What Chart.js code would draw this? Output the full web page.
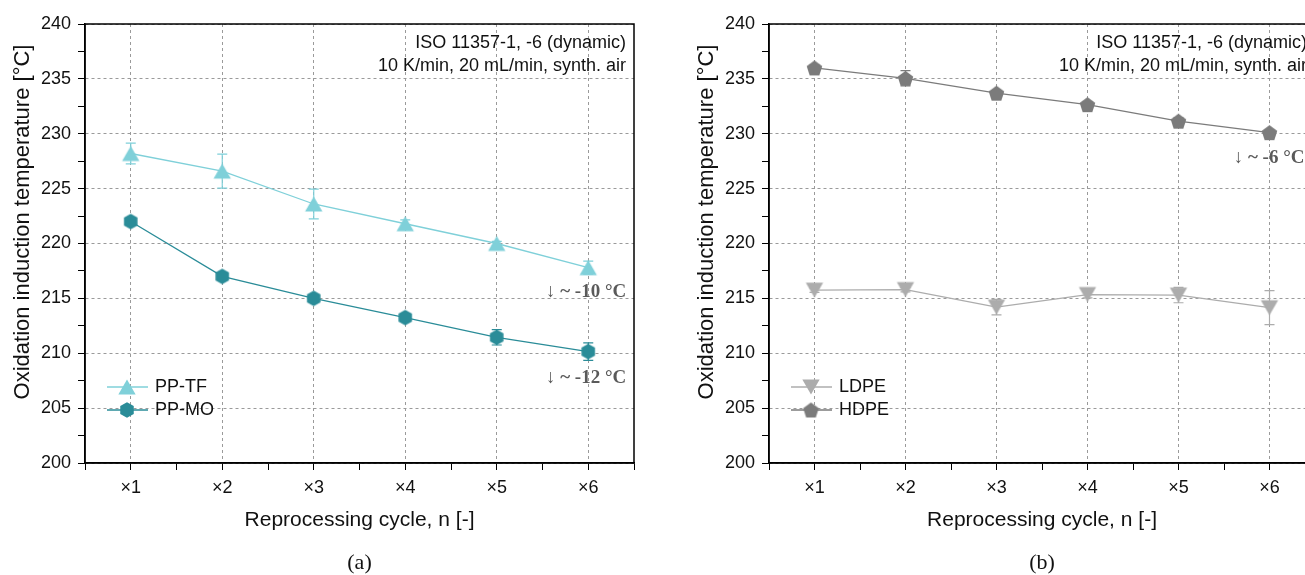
<!DOCTYPE html>
<html>
<head>
<meta charset="utf-8">
<script src="https://cdn.jsdelivr.net/npm/chart.js@4.4.0/dist/chart.umd.min.js"></script>
<style>
  html, body { margin: 0; padding: 0; background: #fff; overflow: hidden; }
  body { width: 1305px; height: 575px; position: relative; }
  #chartA { position: absolute; left: 0; top: 0; }
  #chartB { position: absolute; left: 684px; top: 0; }
</style>
</head>
<body>
<canvas id="chartA" width="650" height="575"></canvas>
<canvas id="chartB" width="647" height="575"></canvas>
<script>
// reprocessing cycles and their tick labels
const cycles = [1, 2, 3, 4, 5, 6];
const cycleLabels = ['×1', '×2', '×3', '×4', '×5', '×6'];

// OIT values [°C] and standard deviations
const ppTF = [228.2, 226.6, 223.6, 221.8, 220.0, 217.8];
const ppTFErr = [0.95, 1.55, 1.35, 0.35, 0.2, 0.6];
const ppMO = [222.0, 217.0, 215.0, 213.25, 211.45, 210.15];
const ppMOErr = [0.3, 0.3, 0.25, 0.3, 0.7, 0.8];
const ldpe = [215.75, 215.8, 214.2, 215.35, 215.3, 214.15];
const ldpeErr = [0.2, 0.2, 0.7, 0.3, 0.7, 1.55];
const hdpe = [236.0, 235.05, 233.7, 232.65, 231.15, 230.1];
const hdpeErr = [0.25, 0.7, 0.2, 0.25, 0.3, 0.2];

const SANS = '"Liberation Sans", Arial, sans-serif';
const SERIF = '"Liberation Serif", "Times New Roman", serif';

// filled regular polygon as point style, bounding box centred
function marker(sides, r, color, rot) {
  const pts = [];
  for (let i = 0; i < sides; i++) {
    const a = rot + i * 2 * Math.PI / sides;
    pts.push([r * Math.sin(a), -r * Math.cos(a)]);
  }
  const xs = pts.map(p => p[0]), ys = pts.map(p => p[1]);
  const cx = (Math.min(...xs) + Math.max(...xs)) / 2;
  const cy = (Math.min(...ys) + Math.max(...ys)) / 2;
  const size = Math.ceil(r * 2 + 2);
  const c = document.createElement('canvas');
  c.width = c.height = size;
  const g = c.getContext('2d');
  g.fillStyle = color;
  g.beginPath();
  pts.forEach((p, i) => {
    const px = size / 2 + p[0] - cx, py = size / 2 + p[1] - cy;
    i ? g.lineTo(px, py) : g.moveTo(px, py);
  });
  g.closePath();
  g.fill();
  return c;
}

const decor = {
  id: 'decor',
  beforeDatasetsDraw(chart) {
    // error bars with caps
    const ctx = chart.ctx, y = chart.scales.y, x = chart.scales.x;
    chart.data.datasets.forEach(ds => {
      ctx.save();
      ctx.strokeStyle = ds.borderColor;
      ctx.lineWidth = 1.2;
      ds.data.forEach((p, i) => {
        const e = ds.errors[i];
        const px = x.getPixelForValue(p.x);
        const top = y.getPixelForValue(p.y + e), bot = y.getPixelForValue(p.y - e);
        ctx.beginPath();
        ctx.moveTo(px, top); ctx.lineTo(px, bot);
        ctx.moveTo(px - 5, top); ctx.lineTo(px + 5, top);
        ctx.moveTo(px - 5, bot); ctx.lineTo(px + 5, bot);
        ctx.stroke();
      });
      ctx.restore();
    });
  },
  afterDraw(chart, args, opts) {
    const ctx = chart.ctx, a = chart.chartArea;
    const x = chart.scales.x, y = chart.scales.y;
    ctx.save();
    // frame
    ctx.strokeStyle = '#000';
    ctx.lineWidth = 1.5;
    ctx.strokeRect(a.left, a.top, a.right - a.left, a.bottom - a.top);

    ctx.fillStyle = '#111';
    // axis titles
    ctx.font = '21px ' + SANS;
    ctx.textAlign = 'center';
    ctx.textBaseline = 'middle';
    ctx.fillText('Reprocessing cycle, n [-]', (a.left + a.right) / 2, 520);
    ctx.save();
    ctx.translate(23, 222);
    ctx.rotate(-Math.PI / 2);
    ctx.font = '22px ' + SANS;
    ctx.fillText('Oxidation induction temperature [°C]', 0, 0);
    ctx.restore();

    // panel caption
    ctx.font = '22px ' + SERIF;
    ctx.fillText(opts.caption, (a.left + a.right) / 2, 563);

    // test conditions
    ctx.font = '18px ' + SANS;
    ctx.textAlign = 'right';
    ctx.fillText('ISO 11357-1, -6 (dynamic)', a.right - 8, 43);
    ctx.fillText('10 K/min, 20 mL/min, synth. air', a.right - 8, 66);

    // drop over six cycles
    ctx.font = 'bold 19px ' + SERIF;
    ctx.fillStyle = '#5a5a5a';
    opts.drops.forEach(d => {
      const vals = chart.data.datasets[d.ds].data;
      const last = vals[vals.length - 1];
      ctx.fillText(d.text, x.getPixelForValue(last.x) + d.dx, y.getPixelForValue(last.y) + d.dy);
    });

    // legend
    ctx.font = '18px ' + SANS;
    ctx.textAlign = 'left';
    ctx.fillStyle = '#111';
    chart.data.datasets.forEach((ds, i) => {
      const ly = 387 + i * 23;
      ctx.strokeStyle = ds.borderColor;
      ctx.lineWidth = 1.3;
      ctx.beginPath();
      ctx.moveTo(107, ly); ctx.lineTo(148, ly);
      ctx.stroke();
      const m = ds.pointStyle;
      ctx.drawImage(m, 127 - m.width / 2, ly - m.height / 2);
      ctx.fillText(ds.label, 155, ly);
    });
    ctx.restore();
  }
};

function series(label, values, errors, color, pt) {
  return {
    label,
    data: cycles.map((c, i) => ({ x: c, y: values[i] })),
    errors,
    borderColor: color,
    backgroundColor: color,
    borderWidth: 1.3,
    pointStyle: pt,
    pointRadius: 8,
    pointHoverRadius: 8,
    tension: 0
  };
}

function panel(id, datasets, caption, drops) {
  return new Chart(document.getElementById(id), {
    type: 'line',
    data: { datasets },
    options: {
      responsive: false,
      animation: false,
      events: [],
      layout: { padding: { left: 0, top: 24, right: 16, bottom: 0 } },
      plugins: {
        legend: { display: false },
        tooltip: { enabled: false },
        decor: { caption, drops }
      },
      scales: {
        x: {
          type: 'linear',
          min: 0.5, max: 6.5,
          afterFit(s) { s.height = 112; },
          afterBuildTicks(s) {
            s.ticks = [];
            for (let v = 0.5; v <= 6.5; v += 0.5) s.ticks.push({ value: v });
          },
          ticks: {
            autoSkip: false,
            maxRotation: 0,
            padding: 7,
            color: '#111',
            font: { family: SANS, size: 18 },
            callback: v => Number.isInteger(v) ? cycleLabels[v - 1] : ''
          },
          grid: {
            color: c => c.tick && Number.isInteger(c.tick.value) && c.tick.value > 0.5 ? '#9a9a9a' : 'rgba(0,0,0,0)',
            tickColor: '#000',
            tickLength: 7,
            lineWidth: 1
          },
          border: { color: '#000', width: 1.5, dash: [3, 3] }
        },
        y: {
          min: 200, max: 240,
          afterFit(s) { s.width = 85; },
          ticks: {
            stepSize: 2.5,
            padding: 7,
            color: '#111',
            font: { family: SANS, size: 18 },
            callback: v => v % 5 === 0 ? String(v) : ''
          },
          grid: {
            color: c => c.tick && c.tick.value % 5 === 0 ? '#9a9a9a' : 'rgba(0,0,0,0)',
            tickColor: '#000',
            tickLength: 7,
            lineWidth: 1
          },
          border: { color: '#000', width: 1.5, dash: [3, 3] }
        }
      }
    },
    plugins: [decor]
  });
}

const cTF = '#7fd0d9', cMO = '#2a8c98', cLD = '#acacac', cHD = '#7b7b7b';

panel('chartA', [
  series('PP-TF', ppTF, ppTFErr, cTF, marker(3, 10, cTF, 0)),
  series('PP-MO', ppMO, ppMOErr, cMO, marker(6, 7.8, cMO, 0))
], '(a)', [
  { ds: 0, text: '↓ ~ -10 °C', dx: 38, dy: 24 },
  { ds: 1, text: '↓ ~ -12 °C', dx: 38, dy: 26 }
]);

panel('chartB', [
  series('LDPE', ldpe, ldpeErr, cLD, marker(3, 10, cLD, Math.PI)),
  series('HDPE', hdpe, hdpeErr, cHD, marker(5, 8.2, cHD, 0))
], '(b)', [
  { ds: 1, text: '↓ ~ -6 °C', dx: 35, dy: 25 }
]);
</script>
</body>
</html>
